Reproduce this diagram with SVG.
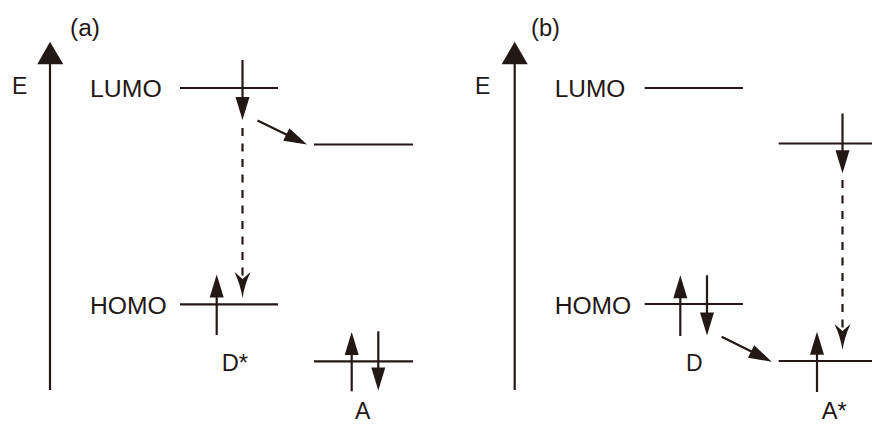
<svg xmlns="http://www.w3.org/2000/svg" width="872" height="424" viewBox="0 0 872 424">
<style>
.t{font-family:"Liberation Sans",Arial,sans-serif;font-size:23px;fill:#231815}
.lv{stroke:#231815;stroke-width:2.2;fill:none}
.ar{stroke:#231815;stroke-width:2.2;fill:none;marker-end:url(#head)}
.da{stroke:#231815;stroke-width:2.2;fill:none;stroke-dasharray:8 7.5;marker-end:url(#dhead)}
.ax{stroke:#231815;stroke-width:2.2;fill:none}
.axh{fill:#231815}
</style>
<defs>
<marker id="head" markerUnits="userSpaceOnUse" markerWidth="23" markerHeight="14" refX="17" refY="7" orient="auto" overflow="visible">
<path d="M0,0 L23,7 L0,14 Z" fill="#231815"/>
</marker>
<marker id="dhead" markerUnits="userSpaceOnUse" markerWidth="26" markerHeight="16" refX="8" refY="8" orient="auto" overflow="visible">
<path d="M0,0 L7,8 L0,16 Q13,10 26,8 Q13,6 0,0 Z" fill="#231815"/>
</marker>
</defs>
<rect width="872" height="424" fill="#ffffff"/>

<g id="panel-a-label"><text class="t" x="70" y="35.5" textLength="30" lengthAdjust="spacingAndGlyphs">(a)</text></g>
<g id="axis-a">
<line class="ax" x1="50" y1="390" x2="50" y2="62"/>
<polygon class="axh" points="50,41.7 37.3,64.3 63.3,64.3"/>
<text class="t" x="12" y="93.5">E</text>
</g>
<g id="a-D-LUMO">
<text class="t" x="90" y="97" textLength="71.7" lengthAdjust="spacingAndGlyphs">LUMO</text>
<line class="lv" x1="180" y1="88" x2="278" y2="88"/>
</g>
<g id="a-D-HOMO">
<text class="t" x="90" y="313.5" textLength="76.7" lengthAdjust="spacingAndGlyphs">HOMO</text>
<line class="lv" x1="180" y1="304.3" x2="278" y2="304.3"/>
<text class="t" x="221.7" y="371.3" textLength="26.3" lengthAdjust="spacingAndGlyphs">D*</text>
</g>
<g id="a-A-LUMO">
<line class="lv" x1="314" y1="144.5" x2="413" y2="144.5"/>
</g>
<g id="a-A-HOMO">
<line class="lv" x1="314" y1="361.3" x2="413" y2="361.3"/>
<text class="t" x="355" y="418.5">A</text>
</g>

<g id="panel-b-label"><text class="t" x="531" y="35.5" textLength="29" lengthAdjust="spacingAndGlyphs">(b)</text></g>
<g id="axis-b">
<line class="ax" x1="514.7" y1="390" x2="514.7" y2="62"/>
<polygon class="axh" points="514.7,41.7 501.7,64.3 527.7,64.3"/>
<text class="t" x="475" y="93.5">E</text>
</g>
<g id="b-D-LUMO">
<text class="t" x="554.7" y="97" textLength="70.6" lengthAdjust="spacingAndGlyphs">LUMO</text>
<line class="lv" x1="644.7" y1="88" x2="743" y2="88"/>
</g>
<g id="b-D-HOMO">
<text class="t" x="554.7" y="313.5" textLength="76.6" lengthAdjust="spacingAndGlyphs">HOMO</text>
<line class="lv" x1="644.7" y1="304" x2="743" y2="304"/>
<text class="t" x="686" y="371.3">D</text>
</g>
<g id="b-A-LUMO">
<line class="lv" x1="778.7" y1="143.5" x2="872" y2="143.5"/>
</g>
<g id="b-A-HOMO">
<line class="lv" x1="778.7" y1="361" x2="872" y2="361"/>
<text class="t" x="821.7" y="418.5" textLength="25" lengthAdjust="spacingAndGlyphs">A*</text>
</g>

<g id="connectors">
<line class="ar" x1="242.5" y1="60" x2="242.5" y2="114"/>
<line class="ar" x1="257.5" y1="120.5" x2="301.6" y2="141.9"/>
<line class="da" x1="242.5" y1="128" x2="242.5" y2="280"/>
<line class="ar" x1="216.7" y1="335" x2="216.7" y2="280.5"/>
<line class="ar" x1="351.7" y1="391.3" x2="351.7" y2="338"/>
<line class="ar" x1="378.3" y1="331.3" x2="378.3" y2="384.5"/>
<line class="ar" x1="842.5" y1="113.5" x2="842.5" y2="167.3"/>
<line class="da" x1="842.5" y1="180" x2="842.5" y2="332"/>
<line class="ar" x1="680.3" y1="336" x2="680.3" y2="281.3"/>
<line class="ar" x1="707" y1="275.3" x2="707" y2="329.5"/>
<line class="ar" x1="721.7" y1="336.7" x2="766.3" y2="359"/>
<line class="ar" x1="817" y1="392" x2="817" y2="337.7"/>
</g>
</svg>
